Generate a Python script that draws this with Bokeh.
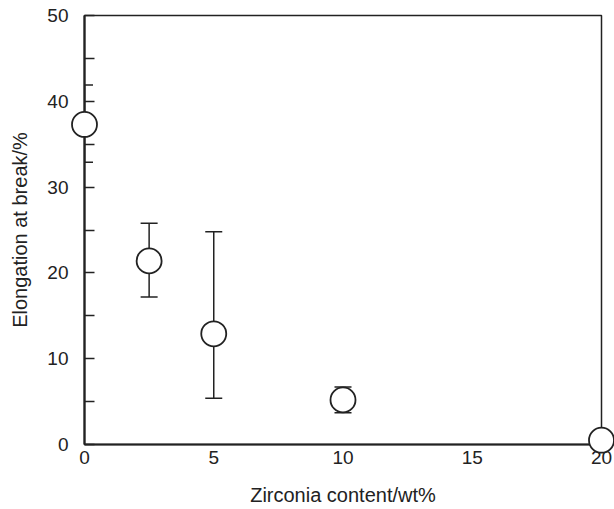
from bokeh.plotting import figure
from bokeh.models import ColumnDataSource, Whisker, TeeHead, Range1d, FixedTicker
from bokeh.embed import file_html
from bokeh.resources import INLINE

# Data
zirconia = [0, 2.5, 5, 10, 20]
elongation = [37.3, 21.4, 12.9, 5.2, 0.5]
err_upper = [41.9, 25.8, 24.8, 6.7, 0.5]
err_lower = [32.9, 17.2, 5.4, 3.7, 0.5]

x_ticks = [0, 5, 10, 15, 20]
y_ticks = [0, 10, 20, 30, 40, 50]
y_minor = [5, 15, 25, 35, 45]

FONT = "Liberation Sans"
INK = "#222222"

p = figure(width=614, height=509, output_backend="svg", toolbar_location=None,
           x_range=Range1d(0, 20), y_range=Range1d(0, 50),
           min_border_left=84, min_border_right=13, min_border_top=15, min_border_bottom=65)

p.xgrid.visible = False
p.ygrid.visible = False
p.outline_line_color = INK
p.outline_line_width = 1.5
p.background_fill_color = "white"
p.border_fill_color = "white"

# X axis
xa = p.xaxis[0]
xa.ticker = FixedTicker(ticks=x_ticks)
xa.major_tick_in = 0
xa.major_tick_out = 0
xa.minor_tick_in = 0
xa.minor_tick_out = 0
xa.axis_line_width = 2.2
xa.axis_line_color = INK
xa.major_label_text_font = FONT
xa.major_label_text_font_size = "19px"
xa.major_label_text_color = INK
xa.major_label_standoff = 6
xa.axis_label = "Zirconia content/wt%"
xa.axis_label_text_font = FONT
xa.axis_label_text_font_size = "20px"
xa.axis_label_text_font_style = "normal"
xa.axis_label_text_color = INK
xa.axis_label_standoff = 17

# Y axis
ya = p.yaxis[0]
ya.ticker = FixedTicker(ticks=y_ticks, minor_ticks=y_minor)
ya.major_tick_in = 10
ya.major_tick_out = 0
ya.minor_tick_in = 10
ya.minor_tick_out = 0
ya.major_tick_line_width = 1.5
ya.minor_tick_line_width = 1.5
ya.major_tick_line_color = INK
ya.minor_tick_line_color = INK
ya.axis_line_width = 2.2
ya.axis_line_color = INK
ya.major_label_text_font = FONT
ya.major_label_text_font_size = "19px"
ya.major_label_text_color = INK
ya.major_label_standoff = 16
ya.axis_label = "Elongation at break/%"
ya.axis_label_text_font = FONT
ya.axis_label_text_font_size = "20px"
ya.axis_label_text_font_style = "normal"
ya.axis_label_text_color = INK
ya.axis_label_standoff = 13

src = ColumnDataSource(dict(x=zirconia, y=elongation, upper=err_upper, lower=err_lower))

w = Whisker(base="x", upper="upper", lower="lower", source=src, dimension="height",
            line_color=INK, line_width=1.5,
            upper_head=TeeHead(size=17, line_color=INK, line_width=1.5),
            lower_head=TeeHead(size=17, line_color=INK, line_width=1.5))
p.add_layout(w)

p.scatter("x", "y", source=src, size=25, fill_color="white", line_color=INK,
          line_width=1.8, level="overlay")

open("out.html", "w").write(file_html(p, INLINE))
